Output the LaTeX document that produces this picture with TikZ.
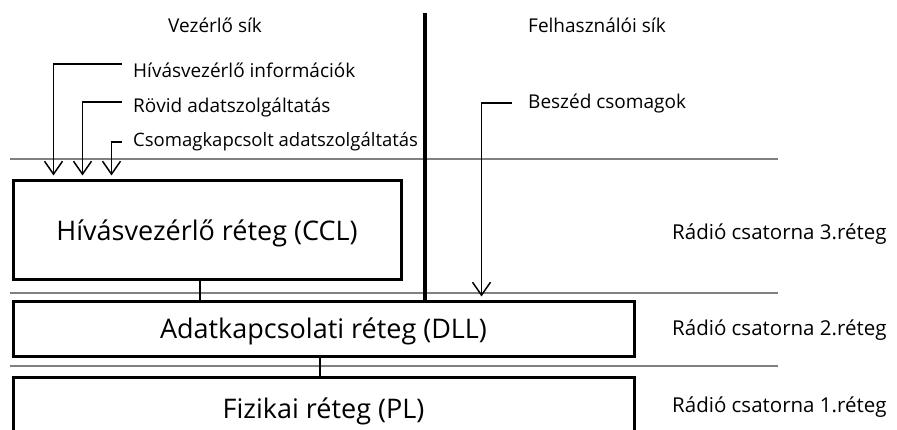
\documentclass[tikz,border=0pt]{standalone}
\usepackage{fontspec}
\setmainfont{Open Sans}
\usetikzlibrary{arrows.meta}
\begin{document}
\begin{tikzpicture}[x=1pt,y=-1pt,
  layer/.style={draw, line width=3pt, inner sep=0pt, text height=19.3pt, text depth=0pt,
    font=\fontsize{27}{31}\selectfont},
  small/.style={inner sep=0pt, anchor=base west, font=\fontsize{19}{22}\selectfont},
  radio/.style={small, font=\fontsize{20.5}{24}\selectfont},
  divider/.style={draw=black!50, line width=1.3pt},
  feed/.style={line width=1.5pt, shorten >=4pt,
    -{Straight Barb[length=13pt,width=18pt,line width=1.5pt]}},
  link/.style={line width=2pt},
  plane/.style={line width=4pt}]
\useasboundingbox (0,0) rectangle (897,430);
\clip (0,0) rectangle (897,430);

% horizontal layer boundaries
\draw[divider] (10,159) -- (778,159);
\draw[divider] (10,293) -- (778,293);
\draw[divider] (10,366) -- (778,366);

% protocol layers
\node[layer, minimum width=388pt, minimum height=99pt] (ccl) at (207,230.5) {Hívásvezérlő réteg (CCL)};
\node[layer, minimum width=621pt, minimum height=54pt] (dll) at (323.5,329) {Adatkapcsolati réteg (DLL)};
\node[layer, minimum width=621pt, minimum height=64pt] (pl) at (323.5,409) {Fizikai réteg (PL)};

% plane headings
\node[small] (vez) at (168,33) {Vezérlő sík};
\node[small] (fel) at (528,33) {Felhasználói sík};

% services entering the layers
\node[small] (hiv) at (133,78) {Hívásvezérlő információk};
\node[small] (rov) at (133,113) {Rövid adatszolgáltatás};
\node[small, font=\fontsize{18.5}{22}\selectfont] (cso) at (133,147) {Csomagkapcsolt adatszolgáltatás};
\node[small] (bes) at (528,109) {Beszéd csomagok};

% radio channel layer names
\node[radio] (r3) at (672,240) {Rádió csatorna 3.réteg};
\node[radio] (r2) at (672,335) {Rádió csatorna 2.réteg};
\node[radio] (r1) at (672,412) {Rádió csatorna 1.réteg};

% control / user plane separator
\coordinate (planetop) at (425,13);
\draw[plane] (planetop) -- (planetop |- dll.north);

% feeds into the layers
\coordinate (hivend) at (122,64);
\coordinate (rovend) at (122,102);
\coordinate (csoend) at (122,142);
\coordinate (besend) at (512,103);
\draw[feed] (hivend) -| ([xshift=42pt]ccl.north west);
\draw[feed] (rovend) -| ([xshift=71pt]ccl.north west);
\draw[feed] (csoend) -| ([xshift=100pt]ccl.north west);
\draw[feed] (besend) -| ([xshift=470pt]dll.north west);

% links between layers
\draw[link] ([xshift=-7pt]ccl.south) -- ([xshift=-7pt]ccl.south |- dll.north);
\draw[link] ([xshift=-3.5pt]dll.south) -- ([xshift=-3.5pt]dll.south |- pl.north);
\end{tikzpicture}
\end{document}
